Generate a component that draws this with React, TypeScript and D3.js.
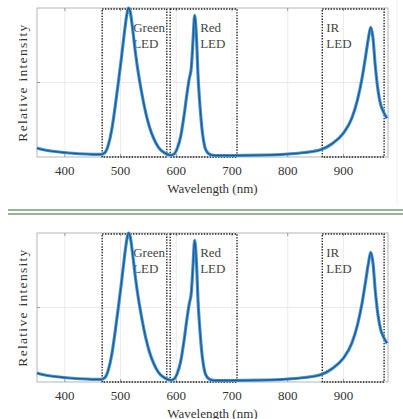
import React from "react";
import * as d3 from "d3";

// emission spectrum (nm, relative intensity)
const wavelengths = [
  350, 360, 375, 400, 425, 450, 465, 472, 478, 484, 490, 496, 502, 507, 511, 514,
  517, 521, 526, 532, 538, 545, 552, 560, 568, 576, 584, 590, 596, 602, 608, 614,
  619, 623, 627, 630, 633, 636, 639, 643, 647, 651, 656, 662, 670, 700, 750, 800,
  830, 860, 880, 900, 915, 925, 933, 940, 945, 949, 953, 957, 962, 967, 971, 975, 978,
];
const intensity = [
  0.06, 0.05, 0.04, 0.03, 0.022, 0.018, 0.017, 0.03, 0.08, 0.18, 0.33, 0.5, 0.68, 0.84, 0.95, 1.0,
  0.98, 0.88, 0.72, 0.56, 0.43, 0.3, 0.2, 0.12, 0.065, 0.035, 0.018, 0.012, 0.02, 0.06, 0.14, 0.28,
  0.42, 0.52, 0.6, 0.78, 0.95, 0.82, 0.55, 0.32, 0.16, 0.07, 0.03, 0.015, 0.01, 0.01, 0.012, 0.02,
  0.03, 0.05, 0.09, 0.16, 0.26, 0.38, 0.52, 0.68, 0.8, 0.87, 0.8, 0.62, 0.45, 0.35, 0.31, 0.28, 0.26,
];
const xTicks = [400, 500, 600, 700, 800, 900];
const ledNames = [["Green", "LED"], ["Red", "LED"], ["IR", "LED"]];
const ledBands = [[467, 583], [589, 709], [862, 973]];

const W = 403;
const H = 419;
const panelTop = [8, 233];

const font = "'Liberation Serif', 'Times New Roman', serif";

function Panel({ top }: { top: number }) {
  const x = d3.scaleLinear().domain([350, 980]).range([37, 388]);
  const y = d3.scaleLinear().domain([0, 1]).range([top + 149, top]);
  const pts = wavelengths.map((w, i) => [w, intensity[i]] as [number, number]);
  const line = d3
    .line<[number, number]>()
    .x((d) => x(d[0]))
    .y((d) => y(d[1]))
    .curve(d3.curveMonotoneX);
  const path = line(pts) || "";
  const [x0, x1] = x.range();
  const [yb, yt] = y.range();

  return (
    <g>
      {/* grid */}
      {xTicks.map((t) => (
        <line key={t} x1={x(t)} x2={x(t)} y1={yt} y2={yb} stroke="#e6e6e6" strokeWidth={0.8} />
      ))}
      <line x1={x0} x2={x1} y1={y(0.5)} y2={y(0.5)} stroke="#e6e6e6" strokeWidth={0.8} />
      {/* frame */}
      <rect x={x0} y={yt} width={x1 - x0} height={yb - yt} fill="none" stroke="#b5b5b5" strokeWidth={1} />
      {xTicks.map((t) => (
        <g key={"tk" + t}>
          <line x1={x(t)} x2={x(t)} y1={yt} y2={yt + 3} stroke="#999" />
          <line x1={x(t)} x2={x(t)} y1={yb} y2={yb - 3} stroke="#999" />
        </g>
      ))}
      <line x1={x0} x2={x0 + 3} y1={y(0.5)} y2={y(0.5)} stroke="#999" />
      {/* LED bands */}
      {ledBands.map(([a, b], i) => (
        <rect
          key={i}
          x={x(a)}
          y={yt + 1}
          width={x(b) - x(a)}
          height={yb - yt - 1}
          fill="none"
          stroke="#222"
          strokeWidth={1.4}
          strokeDasharray="1.4,1.4"
        />
      ))}
      {ledNames.map(([l1, l2], i) => (
        <text key={"n" + i} x={x(ledBands[i][0]) + (i === 0 ? 31 : i === 1 ? 30 : 4)} y={yt + 24}
          fontFamily={font} fontSize={13} fill="#444">
          <tspan>{l1}</tspan>
          <tspan x={x(ledBands[i][0]) + (i === 0 ? 31 : i === 1 ? 30 : 4)} dy={16}>{l2}</tspan>
        </text>
      ))}
      {/* spectrum */}
      <path d={path} fill="none" stroke="#4a97d6" strokeWidth={3.2} strokeLinejoin="round" />
      <path d={path} fill="none" stroke="#1c5a96" strokeWidth={1.3} strokeLinejoin="round" />
      {/* axes text */}
      {xTicks.map((t) => (
        <text key={"l" + t} x={x(t)} y={yb + 18} textAnchor="middle" fontFamily={font} fontSize={13} fill="#333">
          {t}
        </text>
      ))}
      <text x={(x0 + x1) / 2 + 0} y={yb + 36} textAnchor="middle" fontFamily={font} fontSize={13} fill="#333">
        Wavelength (nm)
      </text>
      <text
        transform={`translate(27,${(yt + yb) / 2}) rotate(-90)`}
        textAnchor="middle"
        fontFamily={font}
        fontSize={13.5}
        letterSpacing={1.3}
        fill="#333"
      >
        Relative intensity
      </text>
    </g>
  );
}

export default function App() {
  return (
    <svg
      width={W}
      height={H}
      viewBox={`0 0 ${W} ${H}`}
      style={{ position: "absolute", left: 0, top: 0, background: "#fff" }}
    >
      <rect width={W} height={H} fill="#fff" />
      <line x1={397} x2={397} y1={0} y2={205} stroke="#eee" />
      {panelTop.map((t) => (
        <Panel key={t} top={t} />
      ))}
      <line x1={8} x2={403} y1={210} y2={210} stroke="#2e6a2e" strokeWidth={1.2} />
      <line x1={8} x2={403} y1={214} y2={214} stroke="#2e6a2e" strokeWidth={1.2} />
    </svg>
  );
}
